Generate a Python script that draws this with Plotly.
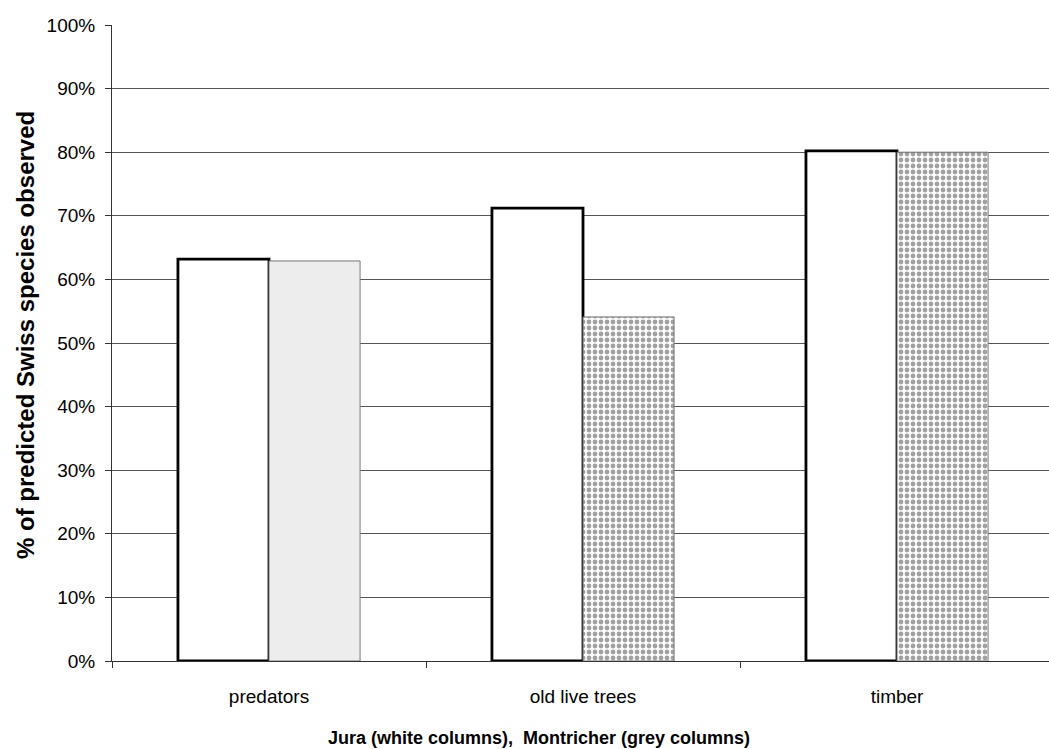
import plotly.graph_objects as go

categories = ["predators", "old live trees", "timber"]
jura = [0.632, 0.712, 0.802]
montricher = [0.629, 0.541, 0.800]
y_ticks = [0, 0.1, 0.2, 0.3, 0.4, 0.5, 0.6, 0.7, 0.8, 0.9, 1.0]
y_tick_labels = ["0%", "10%", "20%", "30%", "40%", "50%", "60%", "70%", "80%", "90%", "100%"]
x_title = "Jura (white columns),  Montricher (grey columns)"
y_title = "% of predicted Swiss species observed"

W, H = 1049, 749
L, R, T, B = 112, 0, 25, 88
PW, PH = W - L - R, H - T - B

fig = go.Figure()
fig.add_trace(go.Bar(
    x=categories, y=jura, name="Jura",
    marker=dict(color="white", line=dict(color="black", width=2.8)),
))
fig.add_trace(go.Bar(
    x=categories, y=montricher, name="Montricher",
    marker=dict(
        color=["#ededed", "white", "white"],
        line=dict(color="#777777", width=1),
        pattern=dict(shape=["", ".", "."], fillmode="overlay",
                     fgcolor="#262626", size=6, solidity=0.5),
    ),
))

font = "Liberation Sans, Arial, sans-serif"
fig.update_layout(
    width=W, height=H,
    margin=dict(l=L, r=R, t=T, b=B),
    paper_bgcolor="white", plot_bgcolor="white",
    barmode="group", bargap=0.42, bargroupgap=0,
    showlegend=False,
    font=dict(family=font, color="black", size=19),
    xaxis=dict(
        range=[-0.5, 2.484], showline=True, linecolor="#333333", linewidth=1,
        ticks="outside", tickson="boundaries", ticklen=6, tickcolor="#333333",
        ticklabelstandoff=18, tickfont=dict(size=19), showgrid=False,
    ),
    yaxis=dict(
        range=[0, 1.0], tickvals=y_ticks, ticktext=y_tick_labels,
        showline=True, linecolor="#333333", linewidth=1,
        ticks="outside", ticklen=6, tickcolor="#333333",
        ticklabelstandoff=6, tickfont=dict(size=19),
        showgrid=True, gridcolor="#555555", gridwidth=1, zeroline=False,
    ),
    annotations=[
        dict(
            text="<b>" + x_title + "</b>", xref="paper", yref="paper",
            x=(539 - L) / PW, y=(661 - 738) / PH, xanchor="center", yanchor="middle",
            showarrow=False, font=dict(size=18),
        ),
        dict(
            text="<b>" + y_title + "</b>", xref="paper", yref="paper",
            x=(25 - L) / PW, y=(661 - 335) / PH, xanchor="center", yanchor="middle",
            textangle=-90, showarrow=False, font=dict(size=24),
        ),
    ],
)

fig.write_html("out.html", config={"displayModeBar": False},
               post_script="document.body.style.margin='0';document.body.style.overflow='hidden';")
